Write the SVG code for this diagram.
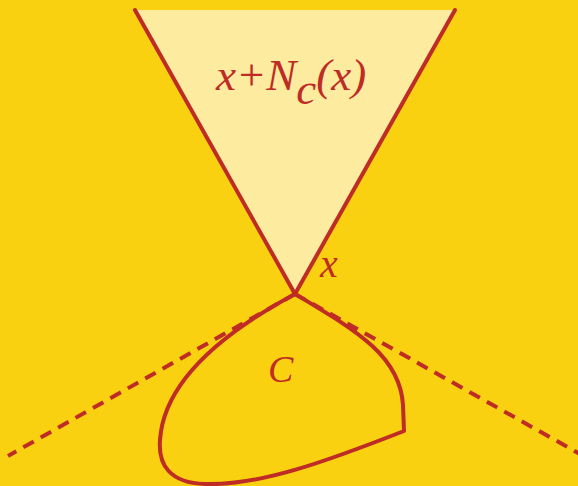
<svg xmlns="http://www.w3.org/2000/svg" width="578" height="486" viewBox="0 0 578 486">
<style>
.ln{stroke:#BF2B25;stroke-width:4;fill:none;stroke-linejoin:round;stroke-linecap:round}
.dash{stroke:#BF2B25;stroke-width:4;fill:none;stroke-dasharray:12 8}
.lbl{font-family:"Liberation Serif","DejaVu Serif",serif;font-style:italic;fill:#BF2B25}
</style>
<rect x="0" y="0" width="578" height="486" fill="#FAD110"/>
<g id="connectors">
<line class="dash" x1="295" y1="294" x2="8" y2="456"/>
<line class="dash" x1="295" y1="294" x2="580" y2="454"/>
</g>
<g id="cone">
<polygon points="135,10 455,10 295,294" fill="#FDEBA0"/>
<polyline class="ln" points="135,10 295,294 455,10"/>
<text class="lbl" x="216" y="90" font-size="45">x+N<tspan dy="14">c</tspan><tspan dy="-14">(x)</tspan></text>
</g>
<g id="point-x">
<text class="lbl" x="320" y="277" font-size="40">x</text>
</g>
<g id="set-C">
<path class="ln" d="M295 294 C355 330 400 355 403 405 L404 431 C330 460 260 486 205 484 C170 483 158 465 160 440 C163 395 200 345 295 294 Z"/>
<text class="lbl" x="268" y="382" font-size="38">C</text>
</g>
</svg>
